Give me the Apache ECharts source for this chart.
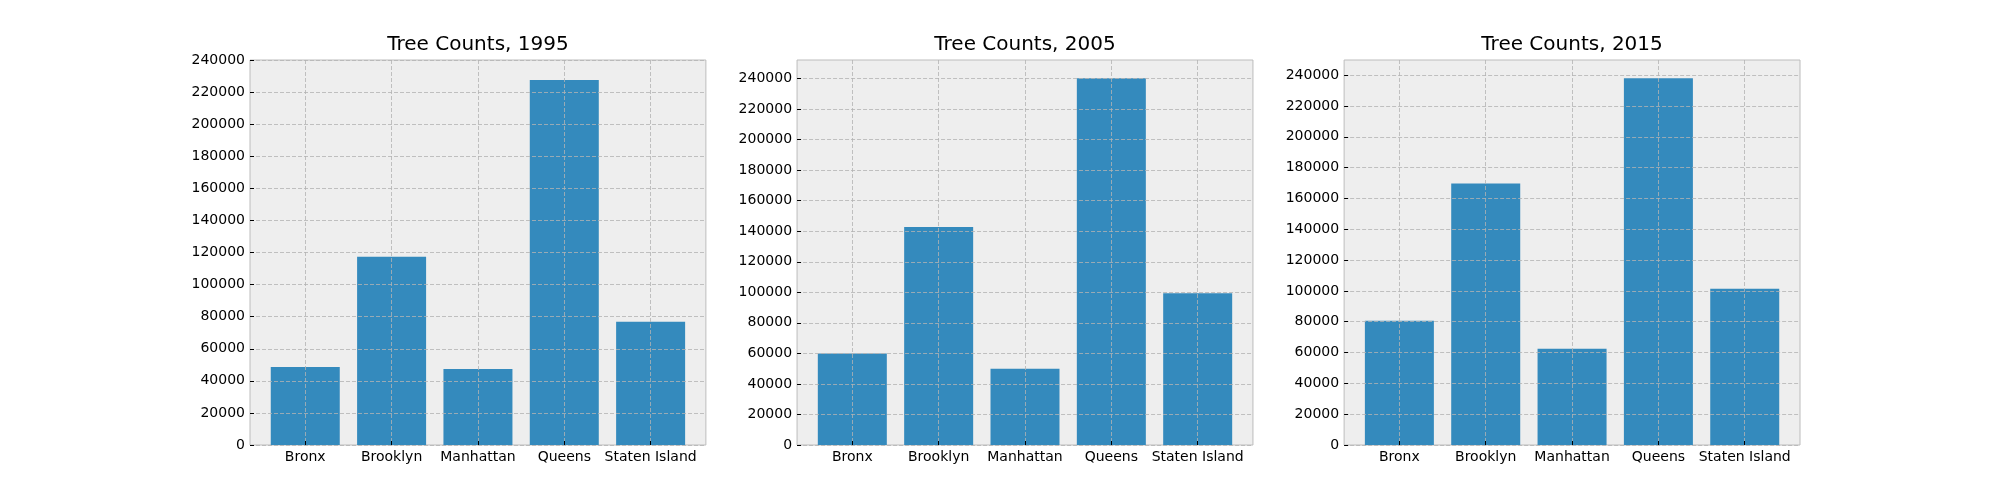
<!DOCTYPE html>
<html>
<head>
<meta charset="utf-8">
<script src="https://cdn.jsdelivr.net/npm/echarts@6/dist/echarts.min.js"></script>
<style>
html,body{margin:0;padding:0;background:#fff;}
#c{width:2000px;height:500px;}
</style>
</head>
<body>
<div id="c"></div>
<script>
const boroughs = ['Bronx', 'Brooklyn', 'Manhattan', 'Queens', 'Staten Island'];
const years = ['1995', '2005', '2015'];
const counts1995 = [48700, 117300, 47400, 227600, 76800];
const counts2005 = [59896, 142776, 49858, 240142, 99458];
const counts2015 = [80585, 169744, 62427, 237974, 101443];
const yTicks = [0, 20000, 40000, 60000, 80000, 100000, 120000, 140000, 160000, 180000, 200000, 220000, 240000];
const yMax = [240000, 252149, 249873];

const allCounts = [counts1995, counts2005, counts2015];
const chart = echarts.init(document.getElementById('c'), null, {renderer: 'canvas'});

const axW = 455.88, gap = 91.18, left0 = 250, top0 = 60, axH = 385;
const font = 'DejaVu Sans';
const grids = [], xAxes = [], yAxes = [], series = [], titles = [];
const xIdx = boroughs.map((b, i) => i);

for (let p = 0; p < 3; p++) {
  const L = left0 + p * (axW + gap);
  grids.push({left: L, top: top0, width: axW, height: axH, show: true,
    backgroundColor: '#eeeeee', borderColor: '#bcbcbc', borderWidth: 1, containLabel: false});
  titles.push({text: 'Tree Counts, ' + years[p], left: L + axW / 2, top: 35, padding: 0,
    textAlign: 'center',
    textStyle: {fontFamily: font, fontSize: 20, fontWeight: 'normal', color: '#000'}});
  xAxes.push({type: 'value', gridIndex: p, min: -0.64, max: 4.64, z: 5, position: 'bottom',
    axisLine: {show: false, onZero: false},
    axisTick: {show: true, inside: true, length: 4, customValues: xIdx, lineStyle: {color: '#000', width: 1}},
    axisLabel: {show: true, customValues: xIdx, margin: 5, fontFamily: font, fontSize: 14, color: '#000',
      formatter: v => boroughs[Math.round(v)]},
    splitLine: {show: true, lineStyle: {color: '#b2b2b2', width: 0.8, type: [4, 2]}}});
  yAxes.push({type: 'value', gridIndex: p, min: 0, max: yMax[p], z: 5, position: 'left',
    axisLine: {show: false, onZero: false},
    axisTick: {show: true, inside: true, length: 4, customValues: yTicks, lineStyle: {color: '#000', width: 1}},
    axisLabel: {show: true, customValues: yTicks, margin: 5, fontFamily: font, fontSize: 14, color: '#000',
      formatter: v => String(v)},
    splitLine: {show: true, lineStyle: {color: '#b2b2b2', width: 0.8, type: [4, 2]}}});
  series.push({type: 'bar', xAxisIndex: p, yAxisIndex: p, barWidth: 69,
    itemStyle: {color: '#348ABD'},
    data: allCounts[p].map((v, i) => [i, v]), silent: true, animation: false});
}

chart.setOption({
  animation: false,
  title: titles,
  grid: grids,
  xAxis: xAxes,
  yAxis: yAxes,
  series: series
});
</script>
</body>
</html>
